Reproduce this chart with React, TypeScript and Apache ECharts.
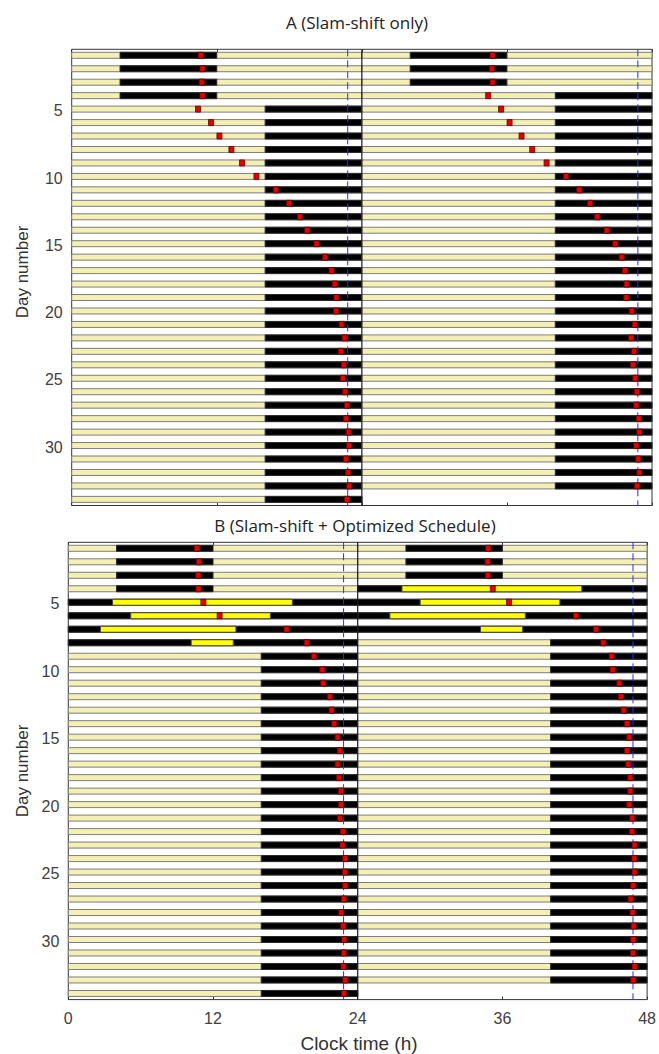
import React, { useEffect, useRef } from "react";
import * as echarts from "echarts";

// ---------- data ----------
const days = [1,2,3,4,5,6,7,8,9,10,11,12,13,14,15,16,17,18,19,20,21,22,23,24,25,26,27,28,29,30,31,32,33,34];

// Panel A (Slam-shift only)
const sleepStartA = [4,4,4,4,16,16,16,16,16,16,16,16,16,16,16,16,16,16,16,16,16,16,16,16,16,16,16,16,16,16,16,16,16,16];
const sleepEndA = [12,12,12,12,24,24,24,24,24,24,24,24,24,24,24,24,24,24,24,24,24,24,24,24,24,24,24,24,24,24,24,24,24,24];
const phaseA = [10.67,10.81,10.75,10.81,10.45,11.52,12.22,13.21,14.09,15.28,16.88,17.98,18.87,19.47,20.25,20.96,21.49,21.76,21.9,21.87,22.32,22.57,22.26,22.51,22.43,22.62,22.76,22.7,22.9,22.95,22.7,22.86,22.95,22.76];

// Panel B (Slam-shift + Optimized Schedule)
const sleepStartB = [4,4,4,4,0,0,0,0,16,16,16,16,16,16,16,16,16,16,16,16,16,16,16,16,16,16,16,16,16,16,16,16,16,16];
const sleepEndB = [12,12,12,12,24,24,24,24,24,24,24,24,24,24,24,24,24,24,24,24,24,24,24,24,24,24,24,24,24,24,24,24,24,24];
const pulseDaysB = [5,6,7,8];
const pulseStartB = [3.67,5.18,2.67,10.19];
const pulseEndB = [18.58,16.76,13.9,13.68];
const phaseB = [10.65,10.82,10.77,10.79,11.2,12.55,18.1,19.77,20.37,21.06,21.14,21.7,21.83,22.05,22.33,22.52,22.33,22.44,22.6,22.6,22.52,22.77,22.74,22.96,22.93,22.96,22.85,22.63,22.79,22.88,22.85,22.82,22.96,22.85];

const targetTimes = [22.83, 46.83];
const dividerTime = 24;
const dayTicks = [5, 10, 15, 20, 25, 30];
const Y_MIN = 0.43;
const Y_MAX = 34.33;

// ---------- helpers ----------
function buildSegments(sleepStart: number[], sleepEnd: number[], pDays: number[], pStart: number[], pEnd: number[]) {
  const out: number[][] = [];
  days.forEach((d, i) => {
    const parts: [number, number][] = [[i, 0]];
    if (i + 1 < days.length) parts.push([i + 1, 24]);
    parts.forEach(([j, off]) => {
      out.push([off, off + 24, d, 0]);
      out.push([off + sleepStart[j], off + sleepEnd[j], d, 1]);
      pDays.forEach((pd, k) => {
        if (pd === days[j]) out.push([off + pStart[k], off + pEnd[k], d, 2]);
      });
    });
  });
  return out;
}
function buildPhase(phase: number[]) {
  const out: number[][] = [];
  days.forEach((d, i) => {
    out.push([phase[i], d]);
    if (i + 1 < days.length) out.push([phase[i + 1] + 24, d]);
  });
  return out;
}

const fills = ["#f4efb3", "#000000", "#ffff00"];
const strokes = ["#7d7d7d", "#2a2a2a", "#4a4a3a"];
const BAR_H = 0.445;
const BAR_OFF = -0.125;

const renderBar = (params: any, api: any) => {
  const y = api.value(2) + BAR_OFF;
  const s = api.coord([api.value(0), y]);
  const e = api.coord([api.value(1), y]);
  const h = api.size([0, BAR_H])[1];
  const k = api.value(3);
  return {
    type: "rect",
    shape: { x: s[0], y: s[1] - h / 2, width: e[0] - s[0], height: h },
    style: { fill: fills[k], stroke: strokes[k], lineWidth: 1 },
  };
};

export default function App() {
  const ref = useRef<HTMLDivElement>(null);
  useEffect(() => {
    if (!ref.current) return;
    const chart = echarts.init(ref.current, undefined, { renderer: "svg" });
    const tickFont = { fontFamily: "Liberation Sans, Arial, sans-serif", fontSize: 16, color: "#404040" };
    const mkX = (gi: number, pos: string, labels: boolean) => ({
      type: "value", gridIndex: gi, position: pos, min: 0, max: 48, interval: 12,
      axisLine: { show: false }, splitLine: { show: false },
      axisTick: { show: true, inside: true, length: 3, lineStyle: { color: "#333" } },
      axisLabel: { show: labels, margin: 11, ...tickFont },
    });
    const mkY = (gi: number) => ({
      type: "value", gridIndex: gi, inverse: true, min: Y_MIN, max: Y_MAX,
      axisLine: { show: false }, splitLine: { show: false },
      axisTick: { show: true, inside: true, length: 3, customValues: dayTicks, lineStyle: { color: "#333" } },
      axisLabel: { show: true, margin: 9, customValues: dayTicks, ...tickFont },
    });
    const vline = (gi: number, x: number, color: string, type: any, width: number, z: number) => ({
      type: "line", xAxisIndex: gi * 2, yAxisIndex: gi, symbol: "none", silent: true, z,
      data: [[x, Y_MIN], [x, Y_MAX]],
      lineStyle: { color, type, width },
      itemStyle: { color },
    });
    const panel = (gi: number, segs: number[][], ph: number[][]) => [
      {
        type: "custom", xAxisIndex: gi * 2, yAxisIndex: gi, renderItem: renderBar,
        encode: { x: [0, 1], y: 2 }, data: segs, z: 2,
      },
      vline(gi, dividerTime, "#1a1a1a", "solid", 1.2, 3),
      vline(gi, targetTimes[0], "#2b2bff", [7, 4], 1, 3),
      vline(gi, targetTimes[1], "#2b2bff", [7, 4], 1, 3),
      {
        type: "scatter", xAxisIndex: gi * 2, yAxisIndex: gi, symbol: "rect", symbolSize: [5, 6],
        data: ph.map((p) => [p[0], p[1] + BAR_OFF]), z: 4,
        itemStyle: { color: "#e60000", borderColor: "#6a0000", borderWidth: 0.8, opacity: 1 },
      },
    ];
    const titleFont = { fontFamily: "Open Sans, sans-serif", fontSize: 17, fill: "#222" };
    const labFont = { fontFamily: "Liberation Sans, Arial, sans-serif", fill: "#333" };
    chart.setOption({
      animation: false,
      backgroundColor: "#ffffff",
      grid: [
        { left: 71.7, top: 49.3, width: 580.3, height: 456.2, show: true, borderColor: "#333", borderWidth: 1, backgroundColor: "#fff" },
        { left: 68.3, top: 542.3, width: 582.4, height: 457.3, show: true, borderColor: "#333", borderWidth: 1, backgroundColor: "#fff" },
      ],
      xAxis: [mkX(0, "bottom", false), mkX(0, "top", false), mkX(1, "bottom", true), mkX(1, "top", false)],
      yAxis: [mkY(0), mkY(1)],
      series: [
        ...panel(0, buildSegments(sleepStartA, sleepEndA, [], [], []), buildPhase(phaseA)),
        ...panel(1, buildSegments(sleepStartB, sleepEndB, pulseDaysB, pulseStartB, pulseEndB), buildPhase(phaseB)),
      ],
      graphic: [
        { type: "text", x: 357, y: 22, style: { text: "A (Slam-shift only)", align: "center", verticalAlign: "middle", ...titleFont } },
        { type: "text", x: 355, y: 525, style: { text: "B (Slam-shift + Optimized Schedule)", align: "center", verticalAlign: "middle", ...titleFont } },
        { type: "text", x: 22, y: 272, rotation: Math.PI / 2, style: { text: "Day number", align: "center", verticalAlign: "middle", fontSize: 17, ...labFont } },
        { type: "text", x: 22, y: 771, rotation: Math.PI / 2, style: { text: "Day number", align: "center", verticalAlign: "middle", fontSize: 17, ...labFont } },
        { type: "text", x: 359, y: 1043, style: { text: "Clock time (h)", align: "center", verticalAlign: "middle", fontSize: 19, ...labFont } },
      ],
    });
    return () => chart.dispose();
  }, []);
  return <div ref={ref} style={{ position: "absolute", left: 0, top: 0, width: 659, height: 1054 }} />;
}
